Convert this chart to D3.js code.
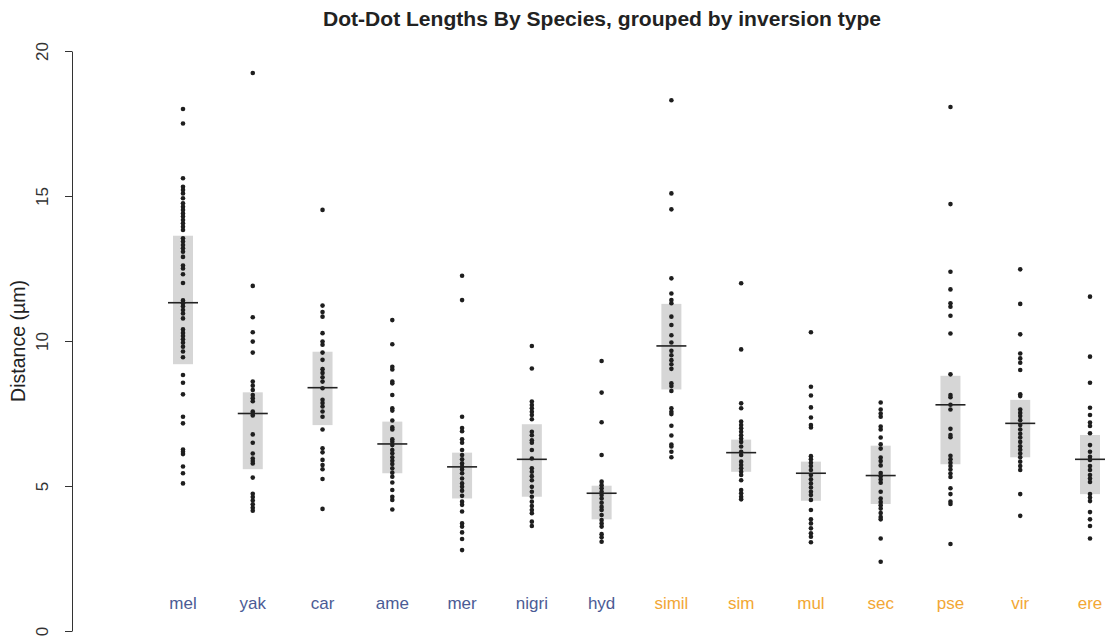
<!DOCTYPE html>
<html><head><meta charset="utf-8">
<script src="https://cdn.jsdelivr.net/npm/d3@7"></script>
<style>body{margin:0;background:#fff;} svg{display:block;font-family:"Liberation Sans",Arial,sans-serif;}</style>
</head><body>
<svg id="c" width="1107" height="637"></svg>
<script>
const categories = ["mel","yak","car","ame","mer","nigri","hyd","simil","sim","mul","sec","pse","vir","ere"];
const groupA = ["mel","yak","car","ame","mer","nigri","hyd"];
const yTicks = [0,5,10,15,20];
const means = [11.32,7.5,8.39,6.45,5.66,5.92,4.75,9.83,6.15,5.44,5.36,7.8,7.16,5.92];
const barLow = [9.2,5.58,7.1,5.44,4.57,4.63,3.85,8.33,5.49,4.49,4.38,5.75,5.99,4.72];
const barHigh = [13.63,8.23,9.63,7.22,6.15,7.13,5.01,11.28,6.6,5.84,6.39,8.8,7.97,6.76];

const mel = [18.0,17.5,15.61,15.32,15.21,15.09,14.92,14.75,14.63,14.52,14.40,14.29,14.17,14.06,13.94,13.83,13.54,13.43,13.31,13.2,13.08,12.9,12.6,12.5,12.3,12.0,11.4,11.3,11.2,11.07,10.95,10.78,10.4,10.28,10.17,10.06,9.94,9.8,9.64,9.44,8.83,8.56,8.16,7.39,7.16,6.26,6.18,6.1,5.67,5.44,5.09];
const yak = [19.24,11.9,10.82,10.3,9.98,9.6,8.6,8.46,8.31,8.14,8.03,7.92,7.57,7.5,7.43,6.78,6.49,6.12,5.95,5.86,5.78,5.29,4.73,4.62,4.5,4.37,4.25,4.15];
const car = [14.52,11.22,11.0,10.84,10.27,9.98,9.87,9.6,9.35,9.03,8.9,8.75,8.6,8.37,7.97,7.86,7.74,7.57,7.39,6.95,6.3,6.16,5.9,5.72,5.58,5.24,4.21];
const ame = [10.72,9.89,9.11,9.02,8.6,8.54,8.14,7.68,7.6,7.26,7.02,6.95,6.61,6.53,6.41,6.24,6.13,5.99,5.87,5.76,5.61,5.46,5.32,5.12,4.86,4.63,4.52,4.19];
const mer = [12.25,11.41,7.39,7.0,6.89,6.61,6.49,6.24,6.07,5.92,5.78,5.66,5.57,5.44,5.26,5.09,4.97,4.84,4.66,4.46,4.35,4.12,3.71,3.6,3.4,3.17,2.79];
const nigri = [9.83,9.05,7.91,7.79,7.68,7.56,7.45,7.3,6.87,6.75,6.58,6.49,6.24,5.95,5.61,5.49,5.34,5.2,4.97,4.8,4.63,4.46,4.31,4.17,4.06,3.77,3.62];
const hyd = [9.31,8.22,7.2,6.07,5.15,5.03,4.92,4.8,4.69,4.57,4.42,4.28,4.17,4.0,3.83,3.71,3.6,3.34,3.23,3.08];
const simil = [18.3,15.09,14.54,12.16,11.64,11.41,11.3,10.84,10.55,10.2,9.95,9.66,9.51,9.34,9.2,9.04,8.54,8.45,8.28,7.68,7.56,7.48,7.08,6.74,6.43,6.36,6.18,5.99];
const sim = [11.99,9.71,7.85,7.68,7.22,7.1,6.99,6.87,6.75,6.64,6.52,6.36,6.18,6.07,5.84,5.72,5.61,5.49,5.38,5.2,4.86,4.75,4.63,4.54];
const mul = [10.3,8.42,8.12,7.71,7.36,7.1,7.02,6.03,5.92,5.8,5.69,5.55,5.38,5.23,5.09,4.95,4.8,4.69,4.52,4.17,3.85,3.71,3.54,3.37,3.25,3.06];
const sec = [7.88,7.64,7.5,7.39,7.05,6.95,6.67,6.44,6.29,5.98,5.86,5.71,5.45,5.34,5.22,5.11,4.8,4.57,4.45,4.34,4.22,4.07,3.93,3.85,3.19,2.39];
const pse = [18.07,14.72,12.39,11.78,11.3,11.18,10.87,10.26,8.85,8.14,8.06,7.8,7.64,6.97,6.76,6.68,6.04,5.92,5.8,5.69,5.57,5.43,5.31,4.92,4.72,4.46,4.38,3.0];
const vir = [12.47,11.28,10.23,9.57,9.4,9.25,9.0,8.16,8.1,7.64,7.52,7.41,7.27,7.1,6.95,6.8,6.67,6.52,6.37,6.25,6.12,5.99,5.84,5.69,5.55,4.72,3.97];
const ere = [11.53,9.46,8.56,7.7,7.45,7.19,7.07,6.82,6.41,6.18,6.01,5.9,5.69,5.55,5.38,5.26,5.14,4.72,4.6,4.48,4.1,3.85,3.62,3.19];
const points = [mel,yak,car,ame,mer,nigri,hyd,simil,sim,mul,sec,pse,vir,ere];

const svg = d3.select("#c");
const x = d3.scalePoint().domain(categories).range([183, 1090]);
const y = d3.scaleLinear().domain([0, 20]).range([631, 51]);

// title
svg.append("text").attr("x", 602).attr("y", 26).attr("text-anchor", "middle")
  .attr("font-weight", "bold").attr("font-size", 20).attr("fill", "#222")
  .attr("textLength", 558).attr("lengthAdjust", "spacingAndGlyphs")
  .text("Dot-Dot Lengths By Species, grouped by inversion type");

// y axis
const yAxis = svg.append("g").attr("transform", "translate(72,0)")
  .call(d3.axisLeft(y).tickValues(yTicks).tickSize(7).tickSizeOuter(0).tickFormat(d3.format("d")));
yAxis.select(".domain").attr("stroke", "#333");
yAxis.selectAll(".tick line").attr("stroke", "#333");
yAxis.selectAll(".tick text")
  .attr("font-size", 17).attr("fill", "#333")
  .attr("transform", "translate(-24,0) rotate(-90)")
  .attr("x", 0).attr("y", 0).attr("dy", "0").attr("text-anchor", "middle");

svg.append("text").attr("transform", "translate(25," + y(10) + ") rotate(-90)")
  .attr("text-anchor", "middle").attr("font-size", 19.5).attr("fill", "#222")
  .text("Distance (µm)");

// bars
const g = svg.append("g");
g.selectAll("rect.bar").data(categories).join("rect")
  .attr("x", d => x(d) - 10).attr("width", 20)
  .attr("y", (d, i) => y(barHigh[i])).attr("height", (d, i) => y(barLow[i]) - y(barHigh[i]))
  .attr("fill", "#d6d6d6");

// points
categories.forEach((c, i) => {
  g.selectAll("circle.p" + i).data(points[i]).join("circle")
    .attr("cx", x(c)).attr("cy", d => y(d)).attr("r", 2.3).attr("fill", "#1e1e1e");
});

// mean lines
g.selectAll("line.mean").data(categories).join("line")
  .attr("x1", d => x(d) - 15).attr("x2", d => x(d) + 15)
  .attr("y1", (d, i) => y(means[i])).attr("y2", (d, i) => y(means[i]))
  .attr("stroke", "#222").attr("stroke-width", 1.6);

// category labels
svg.selectAll("text.cat").data(categories).join("text")
  .attr("x", d => x(d)).attr("y", 609).attr("text-anchor", "middle")
  .attr("font-size", 17)
  .attr("fill", d => groupA.includes(d) ? "#4b5b95" : "#f2a735")
  .text(d => d);
</script>
</body></html>
